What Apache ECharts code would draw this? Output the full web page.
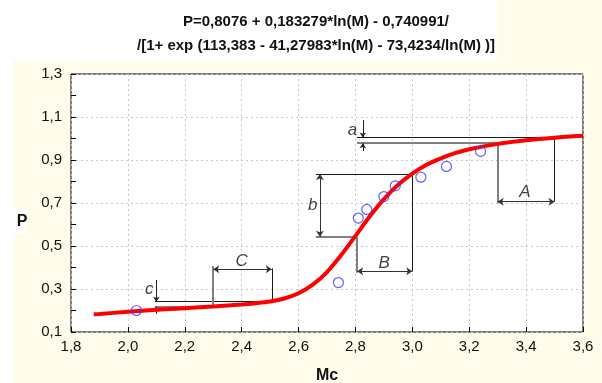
<!DOCTYPE html>
<html><head><meta charset="utf-8">
<script src="https://cdn.jsdelivr.net/npm/echarts@6/dist/echarts.min.js"></script>
<style>html,body{margin:0;padding:0;background:#fff}#c{width:602px;height:383px}</style>
</head><body><div id="c"></div>
<script>
// ---- data ----
const titleLines = ['P=0,8076 + 0,183279*ln(M) - 0,740991/', '/[1+ exp (113,383 - 41,27983*ln(M) - 73,4234/ln(M) )]'];
const xName = 'Mc';
const yName = 'P';
const obsM = [2.03, 2.74, 2.81, 2.84, 2.90, 2.94, 3.03, 3.12, 3.24];
const obsP = [0.20, 0.33, 0.63, 0.67, 0.73, 0.78, 0.82, 0.87, 0.94];
const curveM = [1.88, 1.9, 2.0, 2.1, 2.2, 2.3, 2.4, 2.45, 2.5, 2.55, 2.6, 2.65, 2.7, 2.75, 2.8, 2.85, 2.9, 2.95, 3.0, 3.05, 3.1, 3.15, 3.2, 3.3, 3.4, 3.5, 3.6];
const curveP = [0.183, 0.184, 0.194, 0.203, 0.211, 0.219, 0.228, 0.234, 0.242, 0.256, 0.280, 0.320, 0.379, 0.458, 0.547, 0.637, 0.718, 0.785, 0.837, 0.878, 0.908, 0.932, 0.950, 0.975, 0.992, 1.004, 1.013];
// annotation segments in data units [[M1,P1],[M2,P2]]
const blackSegs = [
  [[2.805, 1.005], [3.51, 1.005]],
  [[3.5, 1.005], [3.5, 0.706]],
  [[2.661, 0.835], [3.004, 0.835]],
  [[3.0, 0.835], [3.0, 0.382]],
  [[2.095, 0.241], [2.506, 0.241]],
  [[2.506, 0.241], [2.506, 0.396]]
];
const greySegs = [
  [[2.805, 0.978], [3.3, 0.978]],
  [[3.3, 0.978], [3.3, 0.699]],
  [[2.661, 0.543], [2.806, 0.543]],
  [[2.806, 0.543], [2.806, 0.376]],
  [[2.095, 0.218], [2.3, 0.218]],
  [[2.3, 0.218], [2.3, 0.407]]
];
const doubleArrows = [
  [[3.3, 0.706], [3.5, 0.706]],
  [[2.806, 0.382], [3.0, 0.382]],
  [[2.3, 0.392], [2.506, 0.392]],
  [[2.675, 0.543], [2.675, 0.835]]
];
const singleArrows = [
  [[2.826, 1.086], [2.826, 1.005]],
  [[2.826, 0.942], [2.826, 0.978]],
  [[2.1, 0.342], [2.1, 0.241]],
  [[2.1, 0.184], [2.1, 0.218]]
];
const letterNames = ['a', 'A', 'b', 'B', 'c', 'C'];
const letterM = [2.79, 3.396, 2.650, 2.901, 2.075, 2.400];
const letterP = [1.04, 0.748, 0.691, 0.421, 0.299, 0.427];

// ---- chart ----
const chart = echarts.init(document.getElementById('c'), null, {renderer: 'canvas'});
const fmt = v => (Math.round(v * 10) / 10).toFixed(1).replace('.', ',');
const FONT = '"Liberation Sans", Arial, sans-serif';
const segData = segs => segs.map(s => ({coords: s}));

chart.setOption({
  backgroundColor: '#FFFCEC',
  animation: false,
  graphic: [
    {type: 'rect', z: -10, shape: {x: 0, y: 0, width: 497, height: 60}, style: {fill: '#ffffff'}},
    {type: 'rect', z: -10, shape: {x: 0, y: 0, width: 13, height: 383}, style: {fill: '#ffffff'}},
    {type: 'rect', z: -10, shape: {x: 0, y: 209, width: 27, height: 25}, style: {fill: '#ffffff'}},
    {type: 'text', x: 316, y: 22, style: {text: titleLines[0], font: 'bold 15px ' + FONT, fill: '#111', textAlign: 'center', textVerticalAlign: 'middle'}},
    {type: 'text', x: 316, y: 46, style: {text: titleLines[1], font: 'bold 15px ' + FONT, fill: '#111', textAlign: 'center', textVerticalAlign: 'middle'}},
    {type: 'text', x: 22, y: 222, style: {text: yName, font: 'bold 16px ' + FONT, fill: '#111', textAlign: 'center', textVerticalAlign: 'middle'}},
    {type: 'text', x: 327, y: 376, style: {text: xName, font: 'bold 16px ' + FONT, fill: '#111', textAlign: 'center', textVerticalAlign: 'middle'}}
  ],
  grid: {left: 71, right: 19, top: 74, bottom: 51, show: true, backgroundColor: '#ffffff', borderColor: '#000', borderWidth: 1},
  xAxis: {
    type: 'value', min: 1.8, max: 3.6, interval: 0.2,
    axisLine: {show: false},
    axisTick: {show: true, inside: true, length: 5, lineStyle: {color: '#000'}},
    minorTick: {show: false},
    splitLine: {show: true, lineStyle: {color: '#c8c8c8', type: [2, 3], width: 1}},
    axisLabel: {formatter: fmt, color: '#111', fontSize: 15, fontFamily: FONT, margin: 7}
  },
  yAxis: {
    type: 'value', min: 0.1, max: 1.3, interval: 0.2,
    axisLine: {show: false},
    axisTick: {show: true, inside: true, length: 5, lineStyle: {color: '#000'}},
    minorTick: {show: true, splitNumber: 2, length: 5, lineStyle: {color: '#000'}},
    splitLine: {show: true, lineStyle: {color: '#c8c8c8', type: [2, 3], width: 1}},
    axisLabel: {formatter: fmt, color: '#111', fontSize: 15, fontFamily: FONT, margin: 9}
  },
  series: [
    {type: 'lines', coordinateSystem: 'cartesian2d', polyline: false, z: 3, symbol: 'none',
     lineStyle: {color: '#1a1a1a', width: 1, opacity: 1}, data: segData(blackSegs)},
    {type: 'lines', coordinateSystem: 'cartesian2d', polyline: false, z: 3, symbol: 'none',
     lineStyle: {color: '#808080', width: 2, opacity: 1}, data: segData(greySegs)},
    {type: 'lines', coordinateSystem: 'cartesian2d', polyline: false, z: 3, symbol: ['arrow', 'arrow'], symbolSize: 6,
     lineStyle: {color: '#333', width: 1, opacity: 1}, data: segData(doubleArrows)},
    {type: 'lines', coordinateSystem: 'cartesian2d', polyline: false, z: 3, symbol: ['none', 'arrow'], symbolSize: 5,
     lineStyle: {color: '#222', width: 1, opacity: 1}, data: segData(singleArrows)},
    {type: 'line', z: 5, data: curveM.map((m, i) => [m, curveP[i]]), showSymbol: false, smooth: 0.3,
     lineStyle: {color: '#ff0000', width: 4}},
    {type: 'scatter', z: 6, data: obsM.map((m, i) => [m, obsP[i]]), symbol: 'circle', symbolSize: 10,
     itemStyle: {color: 'rgba(0,0,0,0)', borderColor: '#3a3aff', borderWidth: 1.2}},
    {type: 'scatter', z: 7, data: letterM.map((m, i) => ({value: [m, letterP[i]], name: letterNames[i]})), symbolSize: 0,
     label: {show: true, position: 'inside', formatter: p => p.name, fontStyle: 'italic', fontSize: 17, fontFamily: FONT, color: '#111'}}
  ]
});
</script></body></html>
